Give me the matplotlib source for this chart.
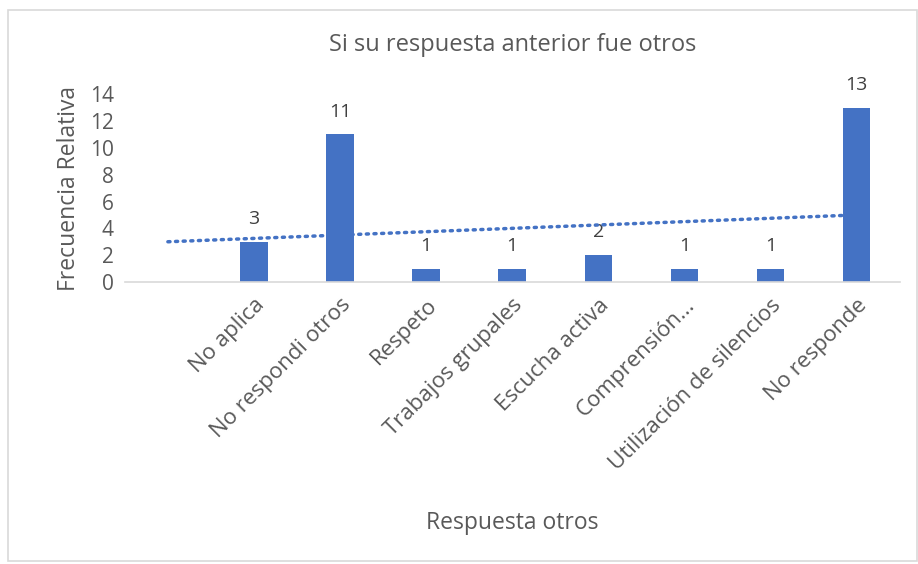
import matplotlib.pyplot as plt
import numpy as np

# categories (first slot is blank in the source sheet)
categories = ['', 'No aplica', 'No respondi otros', 'Respeto', 'Trabajos grupales',
              'Escucha activa', 'Comprensión...', 'Utilización de silencios', 'No responde']
values = [None, 3, 11, 1, 1, 2, 1, 1, 13]

bar_color = '#4472C4'
text_gray = '#595959'

plt.rcParams['font.family'] = ['Open Sans', 'DejaVu Sans']

fig = plt.figure(figsize=(9.18, 5.64), dpi=100)
ax = fig.add_axes([0.136, 0.5, 0.844, 0.333])

x = np.arange(1, len(categories) + 1)
heights = [0 if v is None else v for v in values]
ax.bar(x, heights, width=0.32, color=bar_color, zorder=2)

# value labels above bars
for xi, v in zip(x, values):
    if v is not None:
        ax.annotate(str(v), (xi, v), xytext=(0, 10), textcoords='offset points',
                    ha='center', va='bottom', fontsize=14, color='#404040')

# linear trendline, blank category skipped like Excel does
mask = np.array([v is not None for v in values])
yv = np.array([v for v in values if v is not None], dtype=float)
slope, inter = np.polyfit(x[mask], yv, 1)
ax.plot(x, slope * x + inter, color=bar_color, lw=2.5,
        linestyle=(0, (0.6, 1.6)), dash_capstyle='round', zorder=3)

ax.set_xlim(0.5, len(categories) + 0.5)
ax.set_ylim(0, 14)
ax.set_yticks(range(0, 15, 2))
ax.set_xticks(x)
ax.set_xticklabels(categories, rotation=45, ha='right', rotation_mode='anchor',
                   fontsize=16, color=text_gray)
ax.tick_params(axis='y', labelsize=15, colors=text_gray, length=0, pad=8)
ax.tick_params(axis='x', length=0, pad=9)

for s in ['top', 'right', 'left']:
    ax.spines[s].set_visible(False)
ax.spines['bottom'].set_color('#D9D9D9')
ax.spines['bottom'].set_linewidth(1.2)

ax.set_ylabel('Frecuencia Relativa', fontsize=16.5, color=text_gray, labelpad=6)
fig.text(0.558, 0.073, 'Respuesta otros', ha='center', va='center',
         fontsize=16.5, color=text_gray)
fig.text(0.558, 0.92, 'Si su respuesta anterior fue otros', ha='center', va='center',
         fontsize=17, color=text_gray)

# chart border
fig.patches.append(plt.Rectangle((0.009, 0.005), 0.99, 0.978, transform=fig.transFigure,
                                 fill=False, edgecolor='#D9D9D9', lw=1.2))

fig.savefig('out.png', dpi=100)
